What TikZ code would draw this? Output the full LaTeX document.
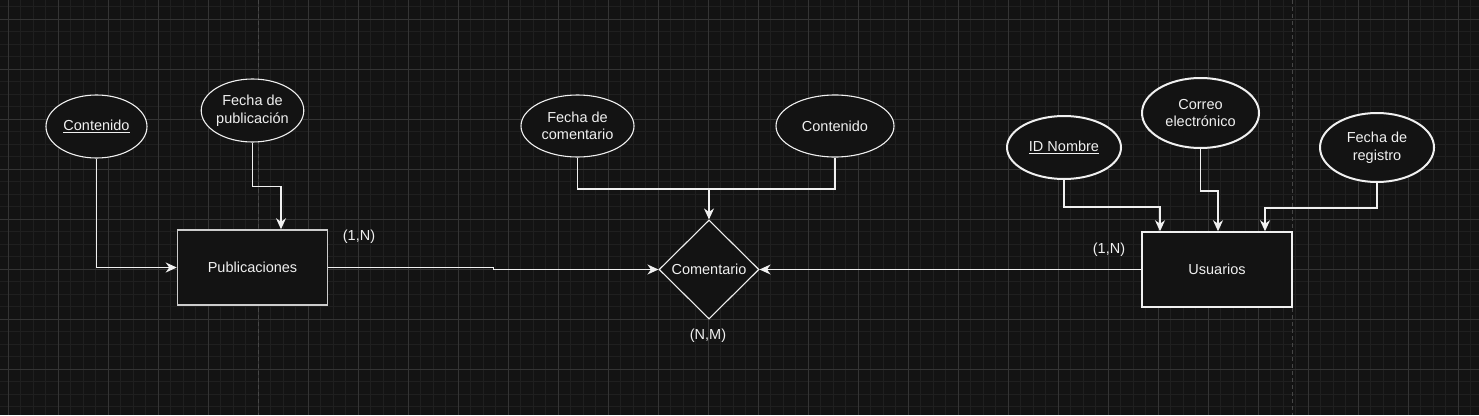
\documentclass[tikz,border=0pt]{standalone}
\usepackage{fontspec}
\setmainfont{Liberation Sans}
\usetikzlibrary{shapes.geometric,arrows.meta}
\definecolor{bgc}{RGB}{19,19,19}
\definecolor{minorc}{RGB}{31,31,31}
\definecolor{majorc}{RGB}{52,52,52}
\definecolor{pagec}{RGB}{70,70,70}
\definecolor{fgc}{RGB}{240,240,240}
\tikzset{
  minorline/.style={draw=minorc,line width=1pt},
  majorline/.style={draw=majorc,line width=1pt},
  pageline/.style={draw=pagec,line width=1pt,dash pattern=on 4pt off 3pt},
  attr/.style={ellipse,draw=fgc,fill=bgc,line width=1.1pt,inner sep=0pt,text=fgc,align=center,font=\fontsize{14.5}{17.5}\selectfont},
  attrb/.style={attr,line width=2pt},
  entity/.style={rectangle,draw=fgc!85!black,fill=bgc,line width=1.5pt,inner sep=0pt,minimum width=150pt,minimum height=75pt,text=fgc,font=\fontsize{14.5}{17.5}\selectfont},
  relation/.style={diamond,draw=fgc,fill=bgc,line width=1.1pt,inner sep=0pt,minimum width=100pt,minimum height=99pt,text=fgc,font=\fontsize{14.5}{17.5}\selectfont},
  lbl/.style={text=fgc,inner sep=0pt,font=\fontsize{14.5}{17.5}\selectfont},
  conn/.style={draw=fgc,line width=1.3pt},
  arr/.style={conn,-{Stealth[length=11pt,width=10pt,inset=3.5pt]}},
}
\begin{document}
\begin{tikzpicture}[x=1pt,y=-1pt]
\fill[bgc] (0,0) rectangle (1479,415);
\useasboundingbox (0,0) rectangle (1479,415);
% grid
\foreach \i in {-1,...,118} { \draw[minorline] ({8+12.5*\i},0) -- ({8+12.5*\i},415); }
\foreach \j in {-1,...,32} { \draw[minorline] (0,{19+12.5*\j}) -- (1479,{19+12.5*\j}); }
\foreach \i in {0,...,29} { \draw[majorline] ({8+50*\i},0) -- ({8+50*\i},415); }
\foreach \j in {0,...,7} { \draw[majorline] (0,{19+50*\j}) -- (1479,{19+50*\j}); }
\draw[pageline] (258,0) -- (258,415);
\draw[pageline] (1292,0) -- (1292,415);

% nodes
\node[attr,minimum width=101pt,minimum height=63pt] (cont) at (96.5,126.5) {\underline{Contenido}};
\node[attr,minimum width=101pt,minimum height=63pt] (fpub) at (252.5,110.5) {Fecha de\\publicación};
\node[entity] (pub) at (252.5,267.5) {Publicaciones};
\node[attr,minimum width=113pt,minimum height=62pt] (fcom) at (577.5,126) {Fecha de\\comentario};
\node[attr,minimum width=118pt,minimum height=62pt] (conm) at (835,126) {Contenido};
\node[relation] (rel) at (709,269.5) {Comentario};
\node[attrb,minimum width=114pt,minimum height=63pt] (idn) at (1064,147.5) {\underline{ID Nombre}};
\node[attrb,minimum width=117pt,minimum height=70pt] (corr) at (1200.5,113) {Correo\\electrónico};
\node[attrb,minimum width=114pt,minimum height=69pt] (freg) at (1377,147.5) {Fecha de\\registro};
\node[entity,draw=fgc] (usr) at (1217,269.5) {Usuarios};

\node[lbl] (c1) at (359,237) {(1,N)};
\node[lbl] (c2) at (708,336) {(N,M)};
\node[lbl] (c3) at (1109,250) {(1,N)};

% anchor points
\coordinate (p1) at ([xshift=28.5pt]pub.north);
\coordinate (j) at (709,189);
\coordinate (u1) at ([xshift=-57pt]usr.north);
\coordinate (u2) at ([xshift=1pt]usr.north);
\coordinate (u3) at ([xshift=48pt]usr.north);

% connectors
\draw[arr] (cont.south) |- (pub.west);
\draw[arr] (fpub.south) -- ++(0,44) -| (p1);
\draw[arr] (pub.east) -- ++(165,0) -- ++(0,2) -- (rel.west);
\draw[conn] (fcom.south) |- (j) -| (conm.south);
\draw[arr] (j) -- (rel.north);
\draw[arr] (usr.west) -- (rel.east);
\draw[arr] (idn.south) -- ++(0,27) -| (u1);
\draw[arr] (corr.south) -- ++(0,42) -| (u2);
\draw[arr] (freg.south) -- ++(0,25) -| (u3);
\end{tikzpicture}
\end{document}
